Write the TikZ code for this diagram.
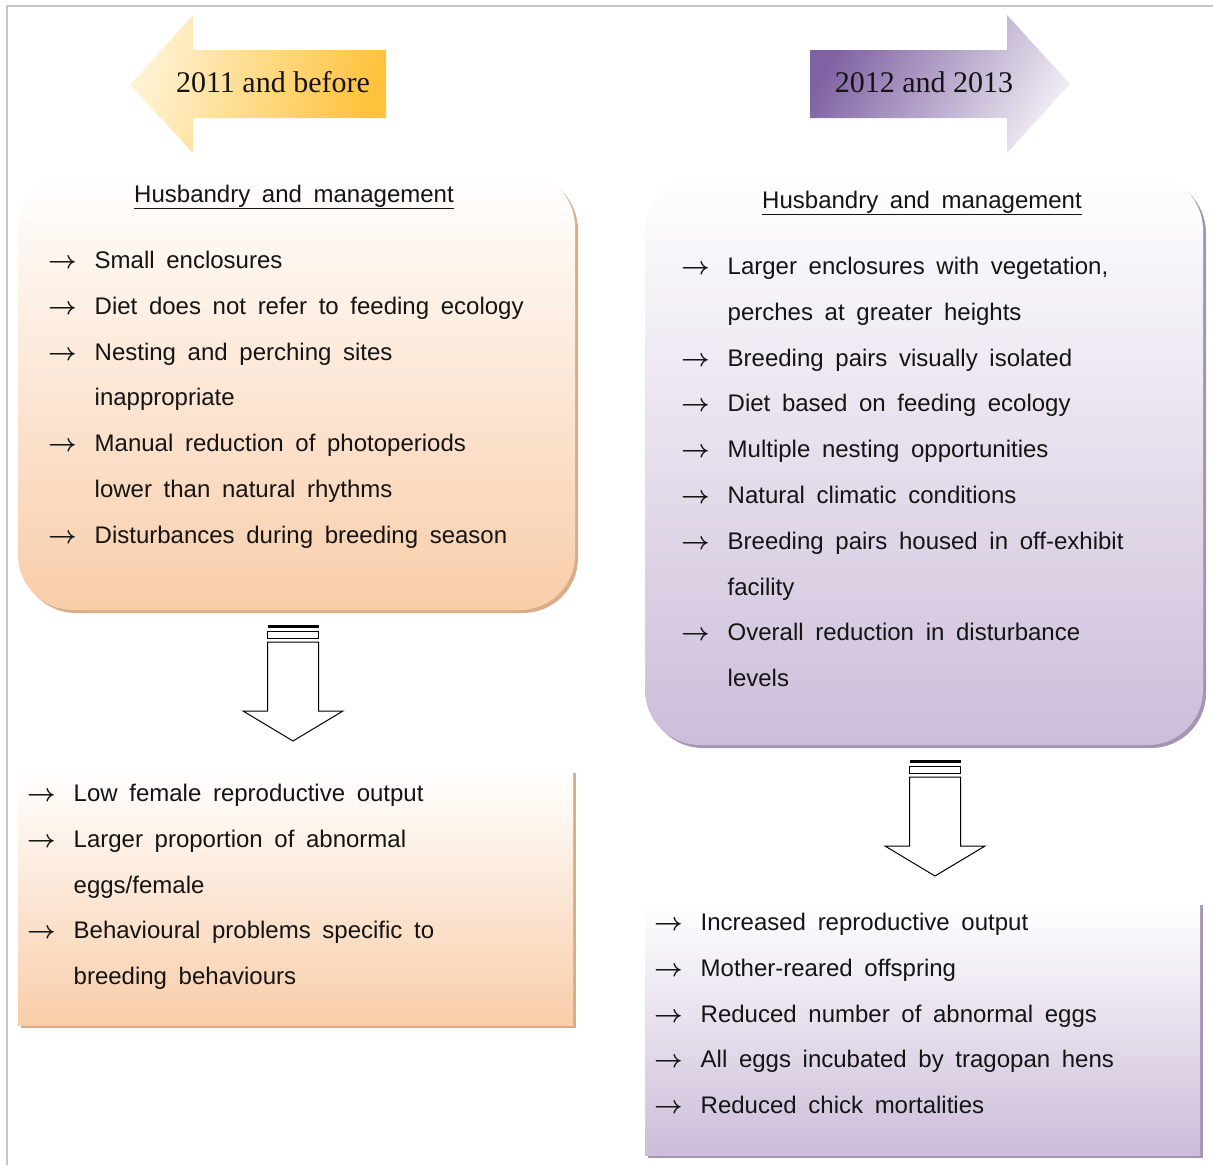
\documentclass[tikz,border=0pt]{standalone}
\usepackage{fontspec}
\usepackage{array}
\setmainfont{Liberation Serif}
\newfontfamily\arialf[WordSpace=1.75]{Liberation Sans}
\usetikzlibrary{shadows}

\definecolor{peachB}{HTML}{F8CDA9}
\definecolor{peachS}{HTML}{D9AD8A}
\definecolor{lilacB}{HTML}{CCBDD9}
\definecolor{lilacS}{HTML}{A395B3}
\definecolor{goldL}{HTML}{FFF2D4}
\definecolor{goldR}{HTML}{FFC23A}
\definecolor{plumD}{HTML}{7F62A3}
\definecolor{plumL}{HTML}{EEEAF3}
\definecolor{frame}{HTML}{C6C6C6}
\definecolor{ink}{HTML}{141414}

\tikzstyle{oldbox}=[top color=white, bottom color=peachB, draw=none, drop shadow={shadow xshift=3pt, shadow yshift=-3pt, fill=peachS, opacity=1}]
\tikzstyle{newbox}=[top color=white, bottom color=lilacB, draw=none, drop shadow={shadow xshift=3pt, shadow yshift=-3pt, fill=lilacS, opacity=1}]
\tikzstyle{heading}=[inner sep=0pt, text=ink, font=\arialf\fontsize{24}{28}\selectfont]
\tikzstyle{itemlist}=[anchor=base west, inner sep=0pt, text=ink, font=\arialf\fontsize{24}{45.8}\selectfont]
\tikzstyle{yearlabel}=[inner sep=0pt, text=ink, font=\fontsize{30}{34}\selectfont]

\newcommand{\hitem}[1]{{\boldmath$\rightarrow$} & #1\\}
\newcommand{\hmore}[1]{ & #1\\}
\newenvironment{hlist}{\begin{tabular}[t]{@{}p{46.5pt}@{}l@{}}}{\end{tabular}}

\begin{document}
\begin{tikzpicture}[x=1pt, y=-1pt]
				\useasboundingbox (0,0) rectangle (1213,1165);
				\draw[frame, line width=2pt] (7,1165) -- (7,6) -- (1213,6);

				% Period arrows
				\shade[left color=goldL, right color=goldR, shading angle=75]
					(130,85) -- (193,15) -- (193,50) -- (386,50) -- (386,118) -- (193,118) -- (193,153) -- cycle;
				\shade[left color=plumD, right color=plumL, shading angle=60]
					(810,50) -- (1007,50) -- (1007,15) -- (1070,84) -- (1007,153) -- (1007,118) -- (810,118) -- cycle;
				\node[yearlabel] (before) at (273,82) {2011 and before};
				\node[yearlabel] (after) at (924,82) {2012 and 2013};

				% Husbandry boxes
				\node[oldbox, rounded corners=55pt, minimum width=557pt, minimum height=438pt] (oldhus) at (296.5,391) {};
				\node[newbox, rounded corners=55pt, minimum width=558pt, minimum height=570pt] (newhus) at (924,460) {};

				% Outcome boxes
				\node[oldbox, minimum width=555pt, minimum height=255pt] (oldout) at (295.5,897.5) {};
				\node[newbox, minimum width=555pt, minimum height=253pt] (newout) at (922.5,1028.5) {};

				\node[heading] (oldtitle) at (294,197) {\underline{Husbandry and management}};
				\node[heading] (newtitle) at (922,203) {\underline{Husbandry and management}};

				\node[itemlist] (oldlist) at (48,268.5) {\begin{hlist}
					\hitem{Small enclosures}
					\hitem{Diet does not refer to feeding ecology}
					\hitem{Nesting and perching sites}
					\hmore{inappropriate}
					\hitem{Manual reduction of photoperiods}
					\hmore{lower than natural rhythms}
					\hitem{Disturbances during breeding season}
				\end{hlist}};
				\node[itemlist] (newlist) at (681,274.5) {\begin{hlist}
					\hitem{Larger enclosures with vegetation,}
					\hmore{perches at greater heights}
					\hitem{Breeding pairs visually isolated}
					\hitem{Diet based on feeding ecology}
					\hitem{Multiple nesting opportunities}
					\hitem{Natural climatic conditions}
					\hitem{Breeding pairs housed in off-exhibit}
					\hmore{facility}
					\hitem{Overall reduction in disturbance}
					\hmore{levels}
				\end{hlist}};
				\node[itemlist] (oldres) at (27,801.5) {\begin{hlist}
					\hitem{Low female reproductive output}
					\hitem{Larger proportion of abnormal}
					\hmore{eggs/female}
					\hitem{Behavioural problems specific to}
					\hmore{breeding behaviours}
				\end{hlist}};
				\node[itemlist] (newres) at (654,930.5) {\begin{hlist}
					\hitem{Increased reproductive output}
					\hitem{Mother-reared offspring}
					\hitem{Reduced number of abnormal eggs}
					\hitem{All eggs incubated by tragopan hens}
					\hitem{Reduced chick mortalities}
				\end{hlist}};

				% Hollow down arrows
				\foreach \cx/\ty in {293/625, 935/760}{
					\fill[black] (\cx-25.5,\ty) rectangle (\cx+25.5,\ty+3);
					\draw[black, line width=1pt] (\cx-25.5,\ty+6) rectangle (\cx+25.5,\ty+13);
					\draw[black, line width=1pt, fill=white] (\cx-25.5,\ty+17) -- (\cx+25.5,\ty+17) -- (\cx+25.5,\ty+86)
						-- (\cx+50,\ty+86) -- (\cx,\ty+116) -- (\cx-50,\ty+86) -- (\cx-25.5,\ty+86) -- cycle;
				}
			\end{tikzpicture}
\end{document}
